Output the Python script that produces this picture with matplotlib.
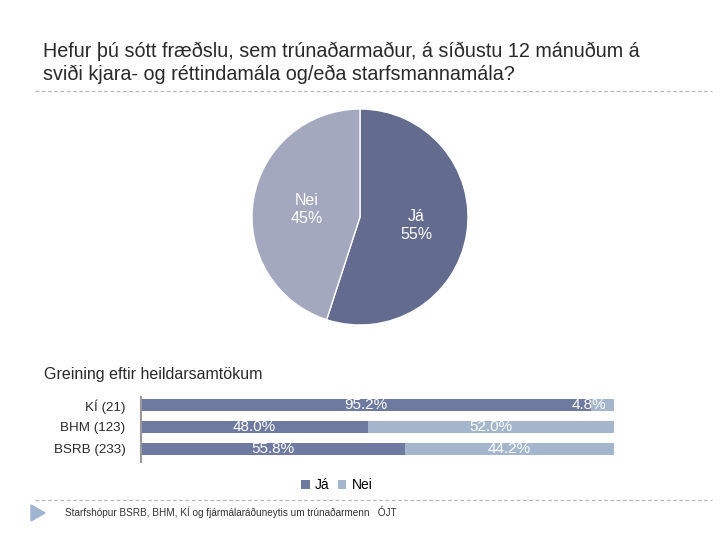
import matplotlib.pyplot as plt
from matplotlib.lines import Line2D
from matplotlib.patches import Polygon

plt.rcParams['font.family'] = ['Liberation Sans', 'DejaVu Sans']

# Data
pie_labels = ['Já', 'Nei']
pie_values = [55, 45]

groups = ['KÍ (21)', 'BHM (123)', 'BSRB (233)']
ja_pct = [95.2, 48.0, 55.8]
nei_pct = [4.8, 52.0, 44.2]

title = ('Hefur þú sótt fræðslu, sem trúnaðarmaður, á síðustu 12 mánuðum á\n'
         'sviði kjara- og réttindamála og/eða starfsmannamála?')
subtitle = 'Greining eftir heildarsamtökum'
footer = 'Starfshópur BSRB, BHM, KÍ og fjármálaráðuneytis um trúnaðarmenn   ÓJT'

W, H = 720, 540
fig = plt.figure(figsize=(7.2, 5.4), dpi=100)

def fx(px):
  return px / W

def fy(py):
  return 1 - py / H

# Title and separators
fig.text(fx(43), fy(63), title, fontsize=14.2, color='#2a2a2a', va='center',
         ha='left', linespacing=1.25)
fig.add_artist(Line2D([fx(35), fx(712)], [fy(91), fy(91)], color='#b8b8b8',
                      lw=0.9, ls=(0, (3, 2))))
fig.add_artist(Line2D([fx(35), fx(712)], [fy(500), fy(500)], color='#b8b8b8',
                      lw=0.9, ls=(0, (3, 2))))

# Pie chart
ax_pie = fig.add_axes([fx(252), fy(325), fx(216), 216 / H])
wedges, _ = ax_pie.pie(pie_values, colors=['#636b8f', '#a3a8bf'], startangle=90,
                       counterclock=False, radius=1,
                       wedgeprops=dict(edgecolor='white', linewidth=1))
ax_pie.set_xlim(-1, 1)
ax_pie.set_ylim(-1, 1)
ax_pie.text(0.52, -0.08, f'{pie_labels[0]}\n{pie_values[0]}%', color='white',
            ha='center', va='center', fontsize=11.5, linespacing=1.3)
ax_pie.text(-0.49, 0.07, f'{pie_labels[1]}\n{pie_values[1]}%', color='white',
            ha='center', va='center', fontsize=11.5, linespacing=1.3)

# Subtitle
fig.text(fx(44), fy(375), subtitle, fontsize=11.5, color='#2a2a2a', va='center')

# Stacked bar chart
ax_bar = fig.add_axes([fx(141), fy(462), fx(473), 65 / H])
ypos = list(range(len(groups)))
ax_bar.barh(ypos, ja_pct, height=0.55, color='#6f7aa0', label='Já')
ax_bar.barh(ypos, nei_pct, left=ja_pct, height=0.55, color='#a3b6cc', label='Nei')
for y, a, b in zip(ypos, ja_pct, nei_pct):
  ax_bar.text(a / 2, y, f'{a:.1f}%', color='white', ha='center', va='center',
              fontsize=11)
  xb = a + b / 2 if b > 10 else a + b / 2 - 3
  ax_bar.text(xb, y, f'{b:.1f}%', color='white', ha='center', va='center',
              fontsize=11)
ax_bar.set_xlim(0, 100)
ax_bar.set_ylim(2.59, -0.36)
ax_bar.set_yticks(ypos)
ax_bar.set_yticklabels(groups, fontsize=9.6, color='#2a2a2a')
ax_bar.tick_params(axis='y', length=0, pad=11)
ax_bar.set_xticks([])
for s in ['top', 'right', 'bottom']:
  ax_bar.spines[s].set_visible(False)
ax_bar.spines['left'].set_color('#999999')
ax_bar.spines['left'].set_linewidth(1.5)
ax_bar.legend(loc='center', bbox_to_anchor=(fx(337), fy(485)),
              bbox_transform=fig.transFigure, ncol=2, frameon=False,
              fontsize=10, handlelength=0.6, handleheight=0.6,
              handletextpad=0.4, columnspacing=0.6)

# Footer
fig.add_artist(Polygon([[fx(31), fy(505)], [fx(31), fy(521)], [fx(45), fy(513)]],
                       closed=True, color='#a0b4d0'))
fig.text(fx(65), fy(512), footer, fontsize=7.2, color='#333333', va='center')

fig.savefig('out.png', dpi=100)
